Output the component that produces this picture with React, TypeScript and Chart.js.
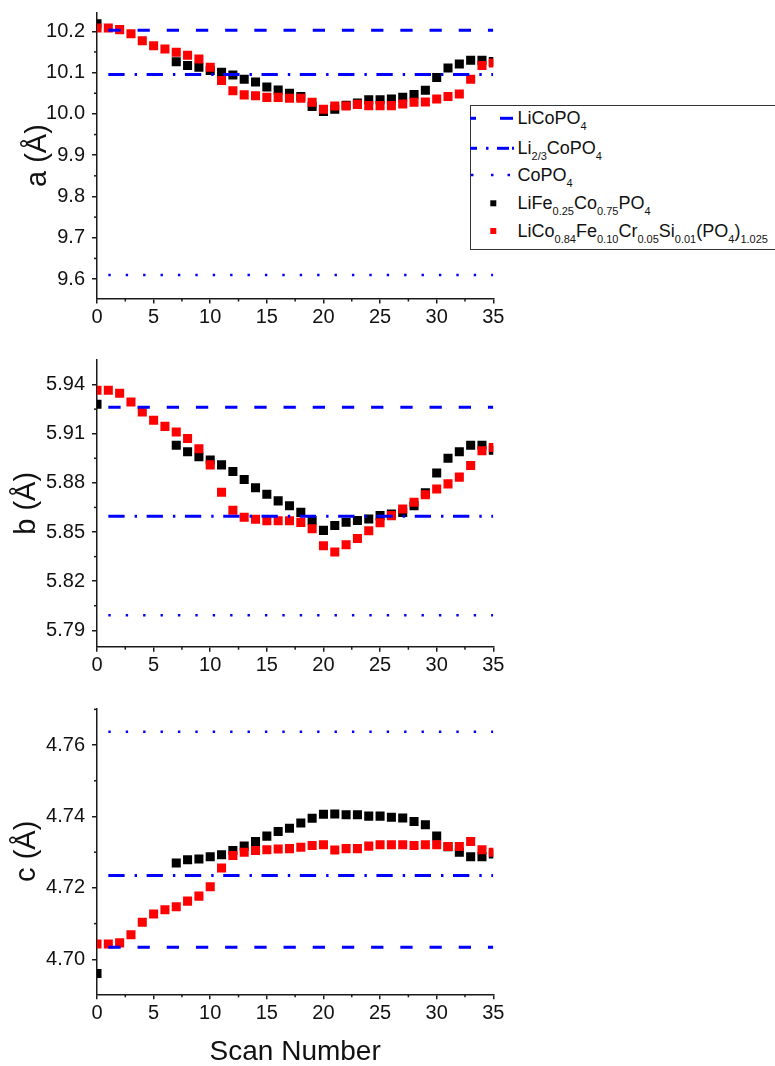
import React, { useEffect, useRef } from "react";
import { Chart, registerables } from "chart.js";

Chart.register(...registerables);

const FONT = '"Liberation Sans", Arial, Helvetica, sans-serif';
const TXT = "#111111";
const AXIS = "#1a1a1a";
const BLUE = "#0000ff";

// ---------- data ----------
const scanRed = [0, 1, 2, 3, 4, 5, 6, 7, 8, 9, 10, 11, 12, 13, 14, 15, 16, 17, 18, 19, 20, 21, 22, 23, 24, 25, 26, 27, 28, 29, 30, 31, 32, 33, 34, 35];
const scanBlack = [0, 7, 8, 9, 10, 11, 12, 13, 14, 15, 16, 17, 18, 19, 20, 21, 22, 23, 24, 25, 26, 27, 28, 29, 30, 31, 32, 33, 34, 35];
const refLineX = [1, 35];

// LiFe0.25Co0.75PO4 (black)
const aBlack = [10.218, 10.126, 10.117, 10.113, 10.105, 10.101, 10.094, 10.084, 10.077, 10.065, 10.058, 10.05, 10.042, 10.018, 10.006, 10.011, 10.021, 10.026, 10.034, 10.034, 10.036, 10.04, 10.047, 10.057, 10.088, 10.111, 10.121, 10.13, 10.13, 10.127];
const bBlack = [5.928, 5.903, 5.899, 5.896, 5.894, 5.891, 5.887, 5.882, 5.877, 5.873, 5.869, 5.866, 5.862, 5.857, 5.851, 5.854, 5.856, 5.857, 5.858, 5.86, 5.861, 5.862, 5.866, 5.874, 5.886, 5.895, 5.899, 5.903, 5.903, 5.9];
const cBlack = [4.696, 4.727, 4.7279, 4.7281, 4.7287, 4.7293, 4.7305, 4.7317, 4.733, 4.7345, 4.7358, 4.7367, 4.7382, 4.7395, 4.7406, 4.7407, 4.7405, 4.7405, 4.7401, 4.7401, 4.7398, 4.7396, 4.7386, 4.7377, 4.7345, 4.7315, 4.73, 4.7287, 4.7287, 4.7295];

// LiCo0.84Fe0.10Cr0.05Si0.01(PO4)1.025 (red)
const aRed = [10.208, 10.208, 10.204, 10.194, 10.177, 10.165, 10.157, 10.149, 10.142, 10.133, 10.113, 10.081, 10.056, 10.046, 10.044, 10.04, 10.04, 10.038, 10.038, 10.028, 10.011, 10.019, 10.019, 10.023, 10.02, 10.02, 10.02, 10.024, 10.028, 10.029, 10.036, 10.042, 10.048, 10.084, 10.117, 10.123];
const bRed = [5.9365, 5.9365, 5.9347, 5.9294, 5.9233, 5.9182, 5.9145, 5.911, 5.9071, 5.9008, 5.891, 5.8743, 5.8633, 5.859, 5.8578, 5.8569, 5.8569, 5.8569, 5.8559, 5.852, 5.8416, 5.8378, 5.8422, 5.8461, 5.8508, 5.8557, 5.86, 5.8641, 5.8682, 5.8727, 5.8763, 5.8794, 5.8835, 5.8906, 5.8996, 5.9016];
const cRed = [4.7043, 4.7043, 4.7046, 4.7069, 4.7104, 4.7127, 4.7139, 4.7147, 4.7163, 4.7177, 4.7203, 4.7256, 4.7291, 4.73, 4.7305, 4.7307, 4.7309, 4.731, 4.7314, 4.7319, 4.7321, 4.7306, 4.731, 4.731, 4.7317, 4.7321, 4.7321, 4.7321, 4.7319, 4.7321, 4.7321, 4.7316, 4.7316, 4.733, 4.7307, 4.73];

// reference lattice parameters: [LiCoPO4, Li2/3CoPO4, CoPO4]
const aRef = [10.2024, 10.0952, 9.6097];
const bRef = [5.9261, 5.8596, 5.7992];
const cRef = [4.7034, 4.7235, 4.7637];

// ticks
const xTicks = [0, 5, 10, 15, 20, 25, 30, 35];
const xTickLabels = ["0", "5", "10", "15", "20", "25", "30", "35"];
const aTicks = [9.6, 9.7, 9.8, 9.9, 10.0, 10.1, 10.2];
const aTickLabels = ["9.6", "9.7", "9.8", "9.9", "10.0", "10.1", "10.2"];
const bTicks = [5.79, 5.82, 5.85, 5.88, 5.91, 5.94];
const bTickLabels = ["5.79", "5.82", "5.85", "5.88", "5.91", "5.94"];
const cTicks = [4.7, 4.72, 4.74, 4.76];
const cTickLabels = ["4.70", "4.72", "4.74", "4.76"];

const aRange = [9.553, 10.245];
const bRange = [5.78, 5.955];
const cRange = [4.6902, 4.7703];

// legend labels: [text, isSubscript]
const legendNames: [string, boolean][][] = [
  [["LiCoPO", false], ["4", true]],
  [["Li", false], ["2/3", true], ["CoPO", false], ["4", true]],
  [["CoPO", false], ["4", true]],
  [["LiFe", false], ["0.25", true], ["Co", false], ["0.75", true], ["PO", false], ["4", true]],
  [["LiCo", false], ["0.84", true], ["Fe", false], ["0.10", true], ["Cr", false], ["0.05", true], ["Si", false], ["0.01", true], ["(PO", false], ["4", true], [")", false], ["1.025", true]],
];

// ---------- layout ----------
const CANVAS_W = 510;
const PLOT_LEFT = 97;
const PLOT_RIGHT = 493.3;

type PanelSpec = {
  canvasTop: number;
  canvasHeight: number;
  plotTop: number;
  plotBottom: number;
  range: number[];
  ticks: number[];
  tickLabels: string[];
  title: string;
  titlePad: number;
  black: number[];
  red: number[];
  ref: number[];
  xTitle: boolean;
};

const panels: PanelSpec[] = [
  { canvasTop: 0, canvasHeight: 340, plotTop: 12.7, plotBottom: 298.5, range: aRange, ticks: aTicks, tickLabels: aTickLabels, title: "a (\u00c5)", titlePad: 23, black: aBlack, red: aRed, ref: aRef, xTitle: false },
  { canvasTop: 340, canvasHeight: 345, plotTop: 360, plotBottom: 646.7, range: bRange, ticks: bTicks, tickLabels: bTickLabels, title: "b (\u00c5)", titlePad: 12, black: bBlack, red: bRed, ref: bRef, xTitle: false },
  { canvasTop: 685, canvasHeight: 381, plotTop: 708.3, plotBottom: 994.3, range: cRange, ticks: cTicks, tickLabels: cTickLabels, title: "c (\u00c5)", titlePad: 12, black: cBlack, red: cRed, ref: cRef, xTitle: true },
];

const minorTicksPlugin = {
  id: "minorTicks",
  afterDraw(chart: any) {
    const ctx = chart.ctx;
    ctx.save();
    ctx.strokeStyle = AXIS;
    ctx.lineWidth = 1.5;
    const draw = (scale: any, horizontal: boolean) => {
      const vals = scale.ticks.map((t: any) => t.value);
      const step = vals[1] - vals[0];
      for (let i = -1; i < vals.length; i++) {
        const v = vals[0] + (i + 0.5) * step;
        if (v <= scale.min || v >= scale.max) continue;
        const p = scale.getPixelForValue(v);
        ctx.beginPath();
        if (horizontal) {
          ctx.moveTo(p, scale.top);
          ctx.lineTo(p, scale.top + 3);
        } else {
          ctx.moveTo(scale.right, p);
          ctx.lineTo(scale.right - 3, p);
        }
        ctx.stroke();
      }
    };
    draw(chart.scales.x, true);
    draw(chart.scales.y, false);
    ctx.restore();
  },
};

function refLine(y: number, dash: number[], width: number) {
  return {
    data: refLineX.map((x) => ({ x, y })),
    showLine: true,
    borderColor: BLUE,
    backgroundColor: BLUE,
    borderWidth: width,
    borderDash: dash,
    borderCapStyle: "butt",
    pointRadius: 0,
    fill: false,
  };
}

function pointSet(xs: number[], ys: number[], color: string) {
  return {
    data: xs.map((x, i) => ({ x, y: ys[i] })),
    showLine: false,
    pointStyle: "rect",
    pointRadius: 6.4,
    pointBorderWidth: 0,
    borderWidth: 0,
    backgroundColor: color,
    borderColor: color,
  };
}

function makeConfig(p: PanelSpec): any {
  return {
    type: "scatter",
    data: {
      datasets: [
        refLine(p.ref[0], [12.3, 16.9], 3),
        refLine(p.ref[1], [16.3, 10, 2.4, 9.6], 3),
        refLine(p.ref[2], [2.4, 15], 2.5),
        pointSet(scanRed, p.red, "#ff0000"),
        pointSet(scanBlack, p.black, "#000000"),
      ],
    },
    options: {
      responsive: false,
      maintainAspectRatio: false,
      animation: false,
      devicePixelRatio: 1,
      events: [],
      layout: { padding: { top: p.plotTop - p.canvasTop, left: 0, right: CANVAS_W - PLOT_RIGHT, bottom: 0 } },
      plugins: { legend: { display: false }, tooltip: { enabled: false }, title: { display: false } },
      scales: {
        x: {
          type: "linear",
          position: "bottom",
          min: 0,
          max: 35,
          afterBuildTicks: (s: any) => {
            s.ticks = xTicks.map((v) => ({ value: v }));
          },
          afterFit: (s: any) => {
            s.height = p.canvasHeight - (p.plotBottom - p.canvasTop);
            s.paddingLeft = 0;
            s.paddingRight = 0;
          },
          ticks: {
            callback: (_v: any, i: number) => xTickLabels[i],
            font: { family: FONT, size: 20 },
            color: TXT,
            padding: 2,
            maxRotation: 0,
            autoSkip: false,
          },
          grid: { drawOnChartArea: false, drawTicks: true, tickLength: 5, color: AXIS, lineWidth: 1.5 },
          border: { display: true, color: AXIS, width: 1.5 },
          title: {
            display: p.xTitle,
            text: "Scan Number",
            font: { family: FONT, size: 28, lineHeight: 1 },
            color: TXT,
            padding: { top: 0, bottom: 0 },
          },
        },
        y: {
          type: "linear",
          position: "left",
          min: p.range[0],
          max: p.range[1],
          afterBuildTicks: (s: any) => {
            s.ticks = p.ticks.map((v) => ({ value: v }));
          },
          afterFit: (s: any) => {
            s.width = PLOT_LEFT;
            s.paddingTop = 0;
            s.paddingBottom = 0;
          },
          ticks: {
            callback: (_v: any, i: number) => p.tickLabels[i],
            font: { family: FONT, size: 20 },
            color: TXT,
            padding: 7,
            autoSkip: false,
          },
          grid: { drawOnChartArea: false, drawTicks: true, tickLength: 5, color: AXIS, lineWidth: 1.5 },
          border: { display: true, color: AXIS, width: 1.5 },
          title: {
            display: true,
            text: p.title,
            font: { family: FONT, size: 29, lineHeight: 1 },
            color: TXT,
            padding: { top: p.titlePad, bottom: 0 },
          },
        },
      },
    },
    plugins: [minorTicksPlugin],
  };
}

// legend geometry (relative to legend box)
const LEG_LEFT = 470;
const LEG_TOP = 105;
const legendRowY = [13.3, 43.3, 70, 98.3, 126];

function Legend() {
  const y = legendRowY;
  return (
    <div
      style={{
        position: "absolute",
        left: LEG_LEFT,
        top: LEG_TOP,
        width: 330,
        height: 145,
        boxSizing: "border-box",
        border: "1.5px solid #333",
        background: "#fff",
        fontFamily: FONT,
        color: TXT,
      }}
    >
      <svg width={48} height={145} style={{ position: "absolute", left: -1.5, top: -1.5 }}>
        {/* dashed */}
        <line x1={0} x2={6} y1={y[0]} y2={y[0]} stroke={BLUE} strokeWidth={3} />
        <line x1={30} x2={43} y1={y[0]} y2={y[0]} stroke={BLUE} strokeWidth={3} />
        {/* dash dot */}
        <line x1={0} x2={7} y1={y[1]} y2={y[1]} stroke={BLUE} strokeWidth={3} />
        <line x1={16} x2={18.5} y1={y[1]} y2={y[1]} stroke={BLUE} strokeWidth={3} />
        <line x1={27} x2={39} y1={y[1]} y2={y[1]} stroke={BLUE} strokeWidth={3} />
        <line x1={42} x2={44} y1={y[1]} y2={y[1]} stroke={BLUE} strokeWidth={3} />
        {/* dotted */}
        <rect x={1} y={y[2] - 1.25} width={2.5} height={2.5} fill={BLUE} />
        <rect x={21} y={y[2] - 1.25} width={2.5} height={2.5} fill={BLUE} />
        <rect x={37.5} y={y[2] - 1.25} width={2.5} height={2.5} fill={BLUE} />
        {/* markers */}
        <rect x={20.3} y={y[3] - 3} width={6} height={6} fill="#000" />
        <rect x={20.3} y={y[4] - 3} width={6} height={6} fill="#ff0000" />
      </svg>
      {legendNames.map((parts, r) => (
        <div
          key={r}
          style={{
            position: "absolute",
            left: 46.5,
            top: y[r] - 1.5 - 11,
            height: 22,
            lineHeight: "22px",
            fontSize: 18,
            whiteSpace: "nowrap",
          }}
        >
          {parts.map(([t, sub], k) =>
            sub ? (
              <span key={k} style={{ fontSize: 11, position: "relative", top: 6 }}>
                {t}
              </span>
            ) : (
              <span key={k}>{t}</span>
            )
          )}
        </div>
      ))}
    </div>
  );
}

export default function App() {
  const refs = [useRef<HTMLCanvasElement>(null), useRef<HTMLCanvasElement>(null), useRef<HTMLCanvasElement>(null)];

  useEffect(() => {
    const charts = panels.map((p, i) => new Chart(refs[i].current as HTMLCanvasElement, makeConfig(p)));
    return () => charts.forEach((c) => c.destroy());
  }, []);

  return (
    <div
      style={{
        position: "absolute",
        left: 0,
        top: 0,
        width: 775,
        height: 1066,
        overflow: "hidden",
        background: "#fff",
      }}
    >
      {panels.map((p, i) => (
        <canvas
          key={i}
          ref={refs[i]}
          width={CANVAS_W}
          height={p.canvasHeight}
          style={{ position: "absolute", left: 0, top: p.canvasTop, width: CANVAS_W, height: p.canvasHeight }}
        />
      ))}
      <Legend />
    </div>
  );
}
